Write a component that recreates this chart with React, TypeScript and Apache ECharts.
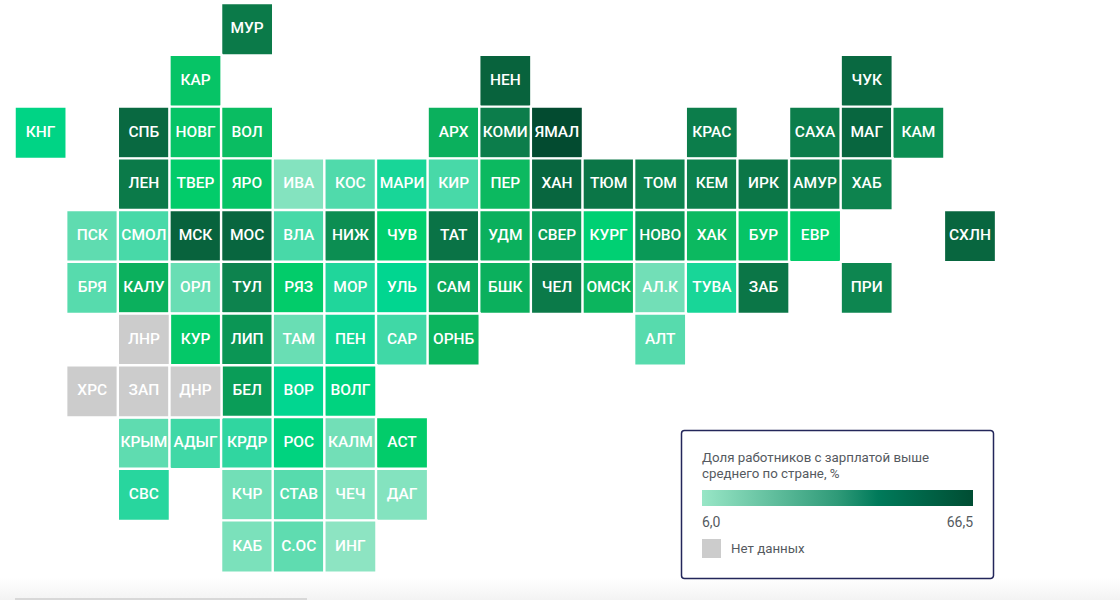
import React, { useEffect, useRef } from "react";
import * as echarts from "echarts";

const columns = Array.from({ length: 19 }, (_, i) => String(i));
const rowIds = Array.from({ length: 11 }, (_, i) => String(i));

// Tile map: every row lists [column, region code, share %]; null share = no data
const row0: [number, string, number | null][] = [[4, "МУР", 52]];
const row1: [number, string, number | null][] = [[3, "КАР", 33], [9, "НЕН", 59], [16, "ЧУК", 57]];
const row2: [number, string, number | null][] = [[0, "КНГ", 26], [2, "СПБ", 57], [3, "НОВГ", 33], [4, "ВОЛ", 35], [8, "АРХ", 38], [9, "КОМИ", 51], [10, "ЯМАЛ", 66.5], [13, "КРАС", 51], [15, "САХА", 51], [16, "МАГ", 58], [17, "КАМ", 46]];
const row3: [number, string, number | null][] = [[2, "ЛЕН", 52], [3, "ТВЕР", 31], [4, "ЯРО", 33], [5, "ИВА", 8], [6, "КОС", 14], [7, "МАРИ", 21], [8, "КИР", 15], [9, "ПЕР", 36], [10, "ХАН", 58], [11, "ТЮМ", 53], [12, "ТОМ", 49], [13, "КЕМ", 50], [14, "ИРК", 53], [15, "АМУР", 51], [16, "ХАБ", 49]];
const row4: [number, string, number | null][] = [[1, "ПСК", 12], [2, "СМОЛ", 15], [3, "МСК", 59], [4, "МОС", 58], [5, "ВЛА", 15], [6, "НИЖ", 46], [7, "ЧУВ", 30], [8, "ТАТ", 54], [9, "УДМ", 38], [10, "СВЕР", 42], [11, "КУРГ", 29], [12, "НОВО", 43], [13, "ХАК", 36], [14, "БУР", 33], [15, "ЕВР", 31], [18, "СХЛН", 58]];
const row5: [number, string, number | null][] = [[1, "БРЯ", 13], [2, "КАЛУ", 38], [3, "ОРЛ", 11], [4, "ТУЛ", 49], [5, "РЯЗ", 31], [6, "МОР", 20], [7, "УЛЬ", 24], [8, "САМ", 40], [9, "БШК", 38], [10, "ЧЕЛ", 52], [11, "ОМСК", 37], [12, "АЛ.К", 10], [13, "ТУВА", 21], [14, "ЗАБ", 53], [16, "ПРИ", 48]];
const row6: [number, string, number | null][] = [[2, "ЛНР", null], [3, "КУР", 32], [4, "ЛИП", 44], [5, "ТАМ", 11], [6, "ПЕН", 22], [7, "САР", 16], [8, "ОРНБ", 37], [12, "АЛТ", 13]];
const row7: [number, string, number | null][] = [[1, "ХРС", null], [2, "ЗАП", null], [3, "ДНР", null], [4, "БЕЛ", 42], [5, "ВОР", 24], [6, "ВОЛГ", 27]];
const row8: [number, string, number | null][] = [[2, "КРЫМ", 12], [3, "АДЫГ", 16], [4, "КРДР", 18], [5, "РОС", 27], [6, "КАЛМ", 10], [7, "АСТ", 31]];
const row9: [number, string, number | null][] = [[2, "СВС", 19], [4, "КЧР", 10], [5, "СТАВ", 13], [6, "ЧЕЧ", 8], [7, "ДАГ", 8]];
const row10: [number, string, number | null][] = [[4, "КАБ", 9], [5, "С.ОС", 12], [6, "ИНГ", 7]];
const allRows = [row0, row1, row2, row3, row4, row5, row6, row7, row8, row9, row10];

const scaleMin = 6;
const scaleMax = 66.5;
const rampColors = ["#96e6c6", "#5fdcb0", "#2fd6a0", "#00d690", "#00cf6c", "#0cb85f", "#0a9c58", "#0d854f", "#0a7245", "#075e3b", "#034b30"];
const noDataColor = "#cccccc";
const legendTitle = ["Доля работников с зарплатой выше", "среднего по стране, %"];
const legendMin = "6,0";
const legendMax = "66,5";
const legendNoData = "Нет данных";
const FONT = "Roboto, sans-serif";

export default function App() {
  const ref = useRef<HTMLDivElement>(null);
  useEffect(() => {
    const chart = echarts.init(ref.current!, undefined, { renderer: "svg" });
    const known: any[] = [];
    const missing: any[] = [];
    allRows.forEach((row, r) =>
      row.forEach(([c, name, v]) => {
        if (v === null) missing.push({ name, value: [c, r, 0] });
        else known.push({ name, value: [c, r, v] });
      })
    );
    const label = {
      show: true,
      formatter: (p: any) => p.name,
      color: "#ffffff",
      fontFamily: FONT,
      fontSize: 15.5,
      fontWeight: 500,
      offset: [0, -1],
    };
    const txt = (x: number, y: number, text: string, extra: any = {}) => ({
      type: "text",
      x,
      y,
      silent: true,
      style: { text, fill: "#555a60", font: `13.3px ${FONT}`, textVerticalAlign: "middle", ...extra },
    });
    chart.setOption({
      animation: false,
      backgroundColor: "#ffffff",
      grid: { left: 14.8, top: 3.4, width: 981, height: 569, containLabel: false },
      xAxis: { type: "category", data: columns, show: false },
      yAxis: { type: "category", data: rowIds, show: false, inverse: true },
      visualMap: [
        {
          show: false,
          type: "continuous",
          min: scaleMin,
          max: scaleMax,
          seriesIndex: 0,
          dimension: 2,
          inRange: { color: rampColors },
        },
        {
          show: false,
          type: "continuous",
          min: 0,
          max: 1,
          seriesIndex: 1,
          dimension: 2,
          inRange: { color: [noDataColor, noDataColor] },
        },
      ],
      series: [
        { type: "heatmap", data: known, label, itemStyle: { borderColor: "#ffffff", borderWidth: 2.4 } },
        { type: "heatmap", data: missing, label, itemStyle: { borderColor: "#ffffff", borderWidth: 2.4 } },
      ],
      graphic: [
        {
          type: "rect",
          silent: true,
          z: -1,
          shape: { x: 0, y: 578, width: 1120, height: 22 },
          style: {
            fill: new echarts.graphic.LinearGradient(0, 0, 0, 1, [
              { offset: 0, color: "#ffffff" },
              { offset: 1, color: "#f3f3f3" },
            ]),
          },
        },
        { type: "rect", silent: true, z: -1, shape: { x: 15, y: 598, width: 292, height: 2 }, style: { fill: "#d8d8d8" } },
        {
          type: "rect",
          silent: true,
          shape: { x: 681.5, y: 430.5, width: 312, height: 148, r: 3 },
          style: { fill: "#ffffff", stroke: "#23265a", lineWidth: 1.5 },
        },
        txt(702, 457.5, legendTitle[0]),
        txt(702, 473.5, legendTitle[1]),
        {
          type: "rect",
          silent: true,
          shape: { x: 702, y: 490, width: 271, height: 16 },
          style: {
            fill: new echarts.graphic.LinearGradient(0, 0, 1, 0, [
              { offset: 0, color: "#98e6c6" },
              { offset: 0.5, color: "#2f9a78" },
              { offset: 0.65, color: "#007a5a" },
              { offset: 1, color: "#004d33" },
            ]),
          },
        },
        txt(702, 521.5, legendMin, { font: `14px ${FONT}` }),
        txt(973, 521.5, legendMax, { font: `14px ${FONT}`, textAlign: "right" }),
        { type: "rect", silent: true, shape: { x: 702, y: 539, width: 19, height: 19 }, style: { fill: noDataColor } },
        txt(731, 548, legendNoData),
      ],
    });
    return () => chart.dispose();
  }, []);
  return (
    <div
      ref={ref}
      style={{ position: "absolute", left: 0, top: 0, width: 1120, height: 600 }}
    />
  );
}
